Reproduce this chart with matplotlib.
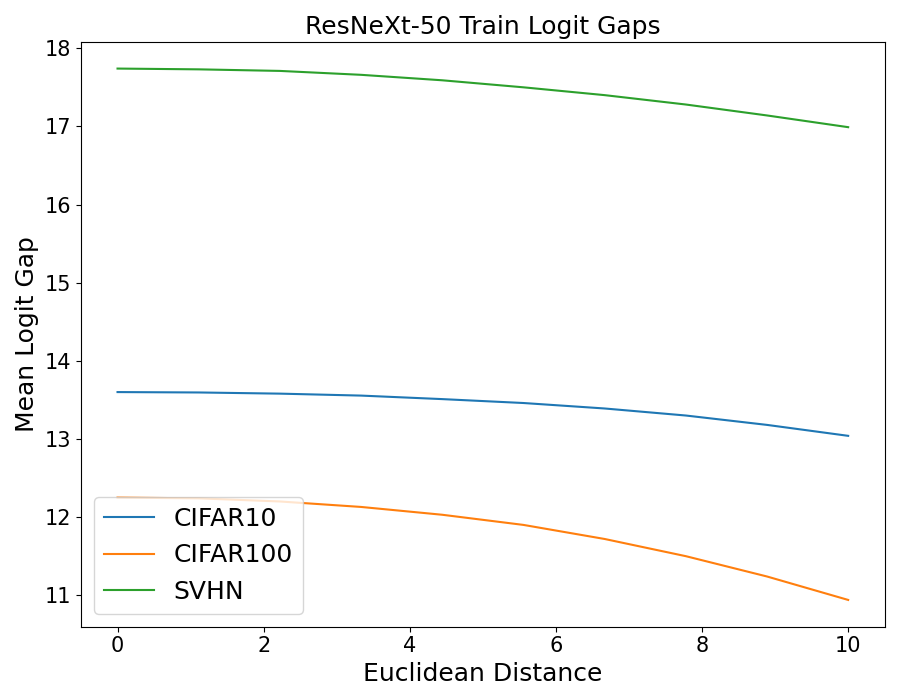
import numpy as np
import matplotlib
matplotlib.use('Agg')
import matplotlib.pyplot as plt

distances = [0.0, 1.111, 2.222, 3.333, 4.444, 5.556, 6.667, 7.778, 8.889, 10.0]
cifar10 = [13.60, 13.595, 13.58, 13.555, 13.51, 13.46, 13.39, 13.30, 13.18, 13.04]
cifar100 = [12.25, 12.24, 12.20, 12.13, 12.03, 11.90, 11.72, 11.50, 11.24, 10.94]
svhn = [17.74, 17.73, 17.71, 17.66, 17.59, 17.50, 17.40, 17.28, 17.14, 16.99]

fig, ax = plt.subplots(figsize=(9, 7), dpi=100)
ax.plot(distances, cifar10, label='CIFAR10')
ax.plot(distances, cifar100, label='CIFAR100')
ax.plot(distances, svhn, label='SVHN')

ax.set_title('ResNeXt-50 Train Logit Gaps', fontsize=18)
ax.set_xlabel('Euclidean Distance', fontsize=18)
ax.set_ylabel('Mean Logit Gap', fontsize=18)
ax.tick_params(labelsize=15)
ax.legend(fontsize=18, loc='lower left')

plt.subplots_adjust(left=0.09, right=0.983, top=0.94, bottom=0.105)
plt.savefig('out.png')
